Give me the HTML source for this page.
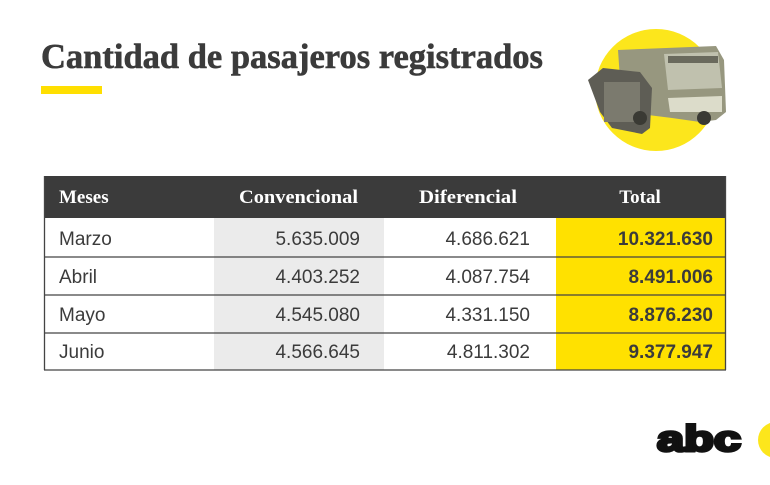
<!DOCTYPE html>
<html><head><meta charset="utf-8"><style>html,body{margin:0;padding:0;background:#fff}svg{display:block}</style></head>
<body>
<svg width="770" height="485" viewBox="0 0 770 485" xmlns="http://www.w3.org/2000/svg">
<rect width="770" height="485" fill="#fff"/>
<text x="41" y="68" font-family="Liberation Serif, serif" font-weight="bold" font-size="35" fill="#3b3b3b" stroke="#3b3b3b" stroke-width="0.6" textLength="502" lengthAdjust="spacingAndGlyphs">Cantidad de pasajeros registrados</text>
<rect x="41" y="86" width="61" height="8" fill="#ffdf00"/>
<!-- bus illustration -->
<circle cx="656" cy="90" r="61" fill="#fce61c"/>
<path d="M618 50 L716 46 L724 60 L726 112 L716 120 L700 122 L672 118 L640 114 L622 108 Z" fill="#97977f"/>
<path d="M664 54 L718 52 L722 88 L668 90 Z" fill="#c0c1ae"/>
<rect x="668" y="56" width="50" height="7" fill="#6a6a5d"/>
<path d="M668 98 L722 96 L722 112 L670 112 Z" fill="#dcdcca"/>
<path d="M588 80 L603 68 L640 72 L652 88 L650 128 L642 134 L612 128 L600 112 Z" fill="#5e5d55"/>
<rect x="604" y="82" width="36" height="40" fill="#7b7a6e"/>
<circle cx="640" cy="118" r="7" fill="#3a3a34"/>
<circle cx="704" cy="118" r="7" fill="#3a3a34"/>
<!-- table -->
<rect x="44" y="176" width="682" height="42" fill="#3b3b3b"/>
<rect x="214" y="218" width="170" height="152" fill="#ebebeb"/>
<rect x="556" y="218" width="170" height="152" fill="#ffe100"/>
<g stroke="#444" stroke-width="1.3" fill="none">
<line x1="44" y1="257" x2="726" y2="257"/>
<line x1="44" y1="295" x2="726" y2="295"/>
<line x1="44" y1="333" x2="726" y2="333"/>
<line x1="44" y1="370" x2="726" y2="370"/>
<line x1="44.5" y1="176" x2="44.5" y2="370"/>
<line x1="725.5" y1="176" x2="725.5" y2="370"/>
</g>
<g font-family="Liberation Serif, serif" font-weight="bold" font-size="19" fill="#fff">
<text x="59" y="203">Meses</text>
<text x="358" y="203" text-anchor="end" textLength="119" lengthAdjust="spacingAndGlyphs">Convencional</text>
<text x="517" y="203" text-anchor="end" textLength="98" lengthAdjust="spacingAndGlyphs">Diferencial</text>
<text x="640" y="203" text-anchor="middle">Total</text>
</g>
<g font-family="Liberation Sans, sans-serif" font-size="19" fill="#3b3b3b">
<text x="59" y="245">Marzo</text>
<text x="59" y="283">Abril</text>
<text x="59" y="321">Mayo</text>
<text x="59" y="358">Junio</text>
<g text-anchor="end">
<text x="360" y="245">5.635.009</text>
<text x="360" y="283">4.403.252</text>
<text x="360" y="321">4.545.080</text>
<text x="360" y="358">4.566.645</text>
<text x="530" y="245">4.686.621</text>
<text x="530" y="283">4.087.754</text>
<text x="530" y="321">4.331.150</text>
<text x="530" y="358">4.811.302</text>
<g font-weight="bold">
<text x="713" y="245">10.321.630</text>
<text x="713" y="283">8.491.006</text>
<text x="713" y="321">8.876.230</text>
<text x="713" y="358">9.377.947</text>
</g></g></g>
<!-- logo -->
<text x="657" y="451" font-family="Liberation Sans, sans-serif" font-weight="bold" font-size="36" fill="#111" stroke="#111" stroke-width="3" textLength="84" lengthAdjust="spacingAndGlyphs">abc</text>
<circle cx="776" cy="440" r="18" fill="#fce61c"/>
</svg>
</body></html>
